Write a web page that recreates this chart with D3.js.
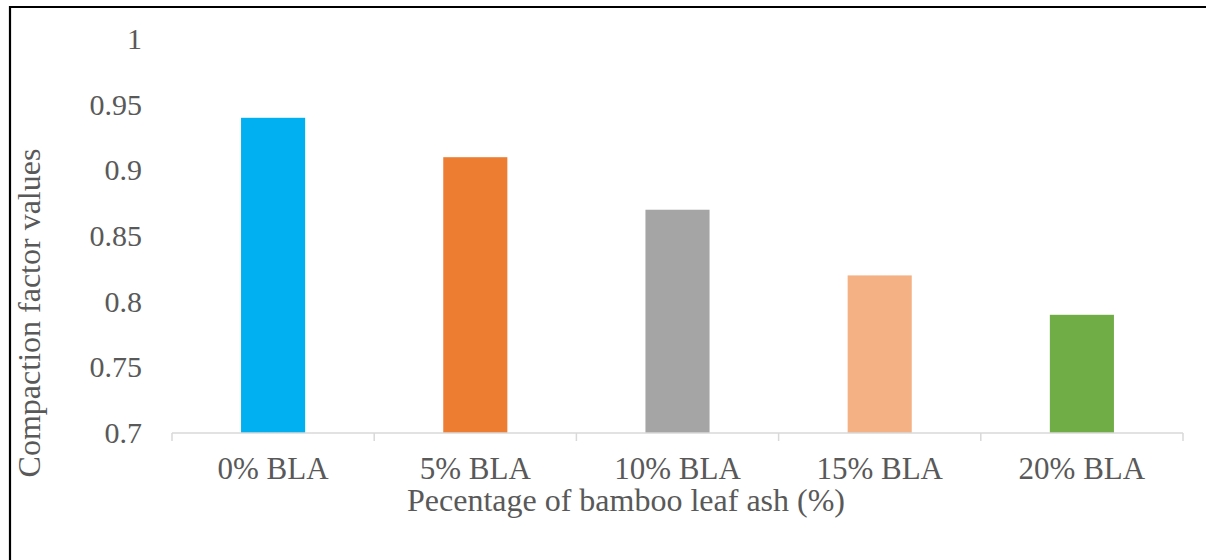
<!DOCTYPE html>
<html>
<head>
<meta charset="utf-8">
<script src="https://cdn.jsdelivr.net/npm/d3@7"></script>
<style>
  html, body { margin: 0; padding: 0; background: #fff; }
  svg { display: block; }
  svg text { font-family: "Liberation Serif", "Times New Roman", serif !important; }
</style>
</head>
<body>
<svg id="chart" width="1206" height="560"></svg>
<script>
// Compaction factor per bamboo leaf ash replacement level
const categories = ["0% BLA", "5% BLA", "10% BLA", "15% BLA", "20% BLA"];
const values = [0.94, 0.91, 0.87, 0.82, 0.79];
const colors = ["#00B0F0", "#ED7D31", "#A5A5A5", "#F4B183", "#70AD47"];
const yTicks = [0.7, 0.75, 0.8, 0.85, 0.9, 0.95, 1];
const yTickLabels = ["0.7", "0.75", "0.8", "0.85", "0.9", "0.95", "1"];
const xTitle = "Pecentage of bamboo leaf ash (%)";
const yTitle = "Compaction factor values";

const svg = d3.select("#chart");
const W = 1206, H = 560;
const plot = { left: 172, right: 1183, top: 39, bottom: 433 };
const textColor = "#595959";

// frame around the figure
svg.append("path")
  .attr("d", `M10,${H} L10,7 L${W},7`)
  .attr("fill", "none")
  .attr("stroke", "#000")
  .attr("stroke-width", 2.2);

const x = d3.scaleBand()
  .domain(categories)
  .range([plot.left, plot.right])
  .paddingInner(0.683)
  .paddingOuter(0.3415);

const y = d3.scaleLinear()
  .domain([0.7, 1])
  .range([plot.bottom, plot.top]);

// bars
svg.append("g")
  .selectAll("rect")
  .data(categories)
  .join("rect")
  .attr("x", d => x(d))
  .attr("width", x.bandwidth())
  .attr("y", (d, i) => y(values[i]))
  .attr("height", (d, i) => y(0.7) - y(values[i]))
  .attr("fill", (d, i) => colors[i]);

// y axis labels (no axis line, no tick marks)
const yAxis = d3.axisLeft(y)
  .tickValues(yTicks)
  .tickFormat((d, i) => yTickLabels[i])
  .tickSize(0)
  .tickPadding(0);
const gy = svg.append("g")
  .attr("transform", `translate(142,0)`)
  .call(yAxis);
gy.select(".domain").remove();
gy.selectAll("text")
  .attr("fill", textColor)
  .attr("font-size", 30);

// x axis baseline with category separators
const gx = svg.append("g").attr("transform", `translate(0,${plot.bottom})`);
gx.append("line")
  .attr("x1", plot.left).attr("x2", plot.right)
  .attr("y1", 0).attr("y2", 0)
  .attr("stroke", "#D9D9D9").attr("stroke-width", 1.5);
const seps = d3.range(categories.length + 1)
  .map(i => plot.left + i * (plot.right - plot.left) / categories.length);
gx.selectAll("line.sep")
  .data(seps)
  .join("line")
  .attr("class", "sep")
  .attr("x1", d => d).attr("x2", d => d)
  .attr("y1", 0).attr("y2", 8)
  .attr("stroke", "#D9D9D9").attr("stroke-width", 1.5);
gx.selectAll("text")
  .data(categories)
  .join("text")
  .attr("x", d => x(d) + x.bandwidth() / 2)
  .attr("y", 46)
  .attr("text-anchor", "middle")
  .attr("fill", textColor)
  .attr("font-size", 31)
  .text(d => d);

// axis titles
svg.append("text")
  .attr("x", 626)
  .attr("y", 511)
  .attr("text-anchor", "middle")
  .attr("fill", textColor)
  .attr("font-size", 32)
  .text(xTitle);

svg.append("text")
  .attr("transform", "translate(40,313) rotate(-90)")
  .attr("text-anchor", "middle")
  .attr("fill", textColor)
  .attr("font-size", 32)
  .text(yTitle);
</script>
</body>
</html>
